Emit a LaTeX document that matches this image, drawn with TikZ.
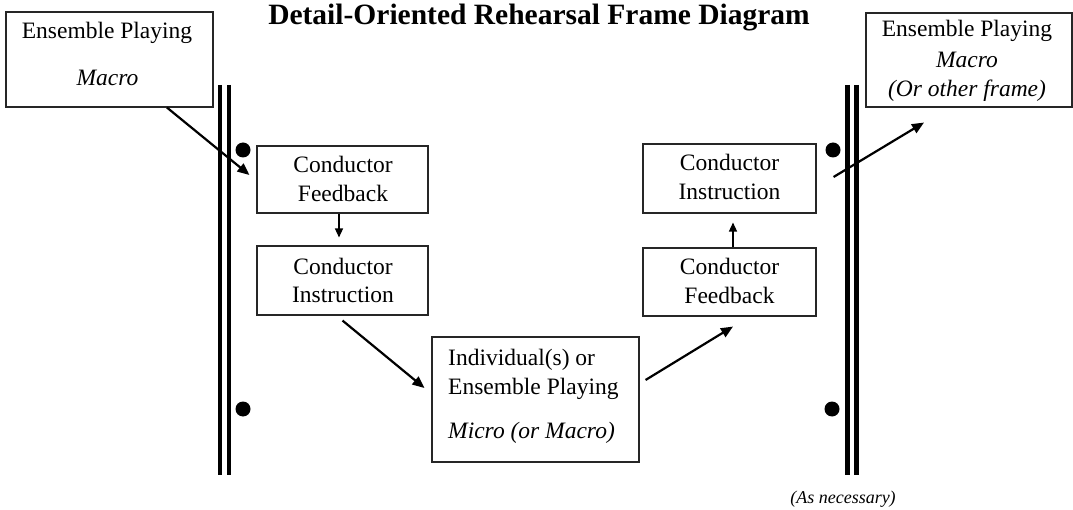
\documentclass[tikz,border=0pt]{standalone}
\usepackage{fontspec}
\setmainfont{Liberation Serif}
\usetikzlibrary{arrows.meta,calc}

\tikzset{
  box/.style={draw=black!85, line width=1.1pt, inner sep=0pt, fill=none},
  txt/.style={inner sep=0pt, anchor=base, font=\fontsize{23.5}{28}\selectfont},
  flow/.style={line width=2.2pt, -{Triangle[length=12pt,width=10pt]}},
  stepflow/.style={line width=1.4pt, -{Triangle[length=9pt,width=8pt]}},
  barline/.style={line width=4.6pt},
  repdot/.style={fill=black}
}

\begin{document}
\begin{tikzpicture}[x=1pt,y=-1pt]
\useasboundingbox (0,0) rectangle (1073,510);

% title
\node[txt, font=\fontsize{29.5}{34}\selectfont\bfseries] (title) at (539,25) {Detail-Oriented Rehearsal Frame Diagram};

% repeat-style frame bars
\draw[barline] (220,85) -- (220,475);
\draw[barline] (229,85) -- (229,475);
\fill[repdot] (243,150) circle[radius=7.5pt];
\fill[repdot] (243,409) circle[radius=7.5pt];
\draw[barline] (847.5,85) -- (847.5,475);
\draw[barline] (856.5,85) -- (856.5,475);
\fill[repdot] (833,150) circle[radius=7.5pt];
\fill[repdot] (832,409) circle[radius=7.5pt];

% boxes
\node[box, minimum width=207pt, minimum height=95pt] (macroL) at (109.5,59.5) {};
\node[box, minimum width=206pt, minimum height=94pt] (macroR) at (969,60) {};
\node[box, minimum width=171pt, minimum height=67pt] (fbL) at (342.5,179.5) {};
\node[box, minimum width=171pt, minimum height=69pt] (inL) at (342.5,280.5) {};
\node[box, minimum width=207pt, minimum height=125pt] (micro) at (535.5,399.5) {};
\node[box, minimum width=173pt, minimum height=68pt] (fbR) at (729.5,282) {};
\node[box, minimum width=173pt, minimum height=69pt] (inR) at (729.5,178.5) {};

% box texts
\node[txt] (macroLa) at (107,39) {Ensemble Playing};
\node[txt] (macroLb) at (107.5,86) {\itshape Macro};

\node[txt] (macroRa) at (967,37) {Ensemble Playing};
\node[txt] (macroRb) at (967,68) {\itshape Macro};
\node[txt] (macroRc) at (967,97) {\itshape (Or other frame)};

\node[txt] (fbLa) at (343,173) {Conductor};
\node[txt] (fbLb) at (343,202) {Feedback};
\node[txt] (inLa) at (343,275) {Conductor};
\node[txt] (inLb) at (343,303) {Instruction};

\node[txt] (inRa) at (729.5,171) {Conductor};
\node[txt] (inRb) at (729.5,200) {Instruction};
\node[txt] (fbRa) at (729.5,275) {Conductor};
\node[txt] (fbRb) at (729.5,304) {Feedback};

\node[txt, anchor=base west] (microa) at (448,365) {Individual(s) or};
\node[txt, anchor=base west] (microb) at (448,394) {Ensemble Playing};
\node[txt, anchor=base west] (microc) at (448,438) {\itshape Micro (or Macro)};

\node[txt, font=\fontsize{18}{21}\selectfont\itshape] (asnec) at (843,503) {(As necessary)};

% connectors
\draw[flow] ($(macroL.south west)!0.776!(macroL.south east)$) -- ($(fbL.west)+(-7,-4.5)$);
\draw[stepflow] ($(fbL.south)+(-3.5,0)$) -- ($(inL.north)+(-3.5,-8)$);
\draw[flow] ($(inL.south)+(0,5)$) -- ($(micro.west)+(-7,-11.5)$);
\draw[flow] ($(micro.east)+(6,-19.5)$) -- ($(fbR.south)+(3.5,10)$);
\draw[stepflow] ($(fbR.north)+(3.5,0)$) -- ($(inR.south)+(3.5,9)$);
\draw[flow] ($(inR.east)+(17,-1.5)$) -- ($(macroR.south)+(-45,15)$);

\end{tikzpicture}
\end{document}
